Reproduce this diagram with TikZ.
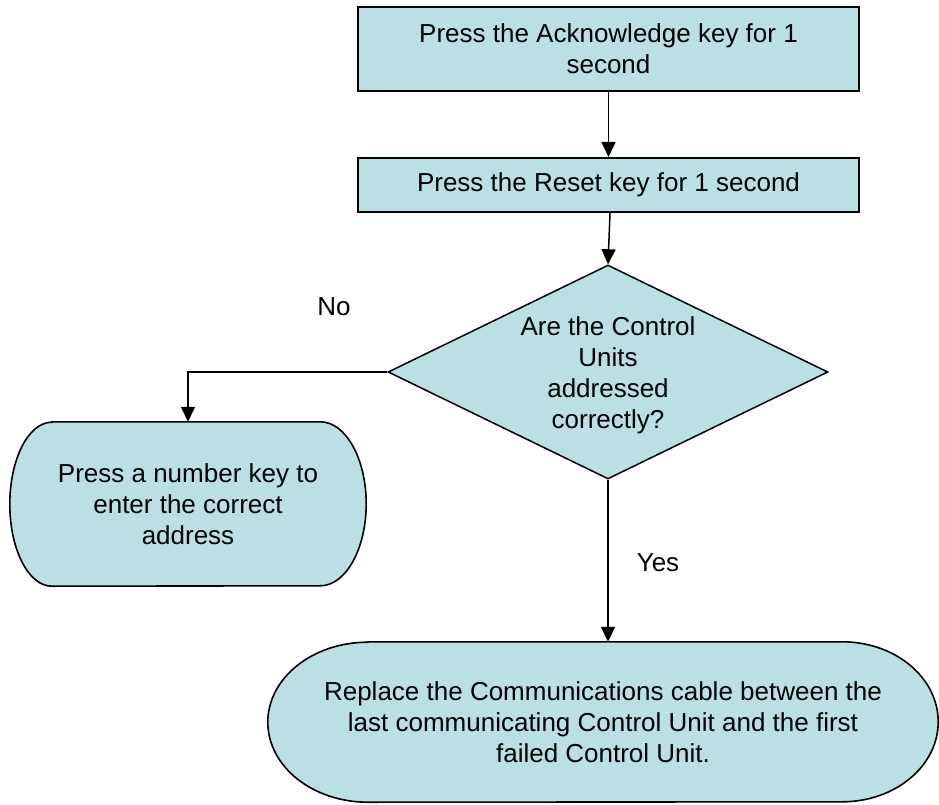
\documentclass[tikz,border=0pt]{standalone}
\usepackage{fontspec}
\setmainfont{Liberation Sans}
\usetikzlibrary{arrows.meta,shapes.geometric,backgrounds}
\definecolor{boxfill}{RGB}{187,224,227}
\begin{document}
\begin{tikzpicture}[x=1pt,y=-1pt,
  every node/.style={font=\fontsize{26}{31}\selectfont, align=center, inner sep=0pt},
  procbox/.style={draw=black, line width=2pt, fill=boxfill, rectangle, minimum width=501pt},
  decbox/.style={draw=black, line width=1.5pt, fill=boxfill, diamond, minimum width=440pt, minimum height=214pt, aspect=2.06},
  termtext/.style={rectangle},
  termshape/.style={draw=black, line width=1.6pt, fill=boxfill},
  conn/.style={draw=black, line width=1.5pt, -{Triangle[length=15pt,width=14pt]}},
  lbl/.style={font=\fontsize{26}{31}\selectfont}]
\useasboundingbox (0,0) rectangle (939,805);
\node[procbox, minimum height=84pt] (ack) at (608.5,49) {Press the Acknowledge key for 1\\second};
\node[procbox, minimum height=54pt] (reset) at (608.5,185) {Press the Reset key for 1 second};
\node[decbox] (dec) at (608,372) {};
\node (dectext) at (608,375) {Are the Control\\Units\\addressed\\correctly?};
\node[termtext, minimum width=356pt, minimum height=164pt] (num) at (188,504) {Press a number key to\\enter the correct\\address};
\node[termtext, minimum width=670pt, minimum height=160pt] (repl) at (603,722) {Replace the Communications cable between the\\last communicating Control Unit and the first\\failed Control Unit.};
\begin{scope}[on background layer]
  \path[termshape] ([xshift=42pt]num.north west) -- ([xshift=-46pt]num.north east)
    arc[start angle=90,end angle=-90,x radius=46pt,y radius=82pt]
    -- ([xshift=42pt]num.south west)
    arc[start angle=270,end angle=90,x radius=42pt,y radius=82pt] -- cycle;
  \path[termshape] ([xshift=100pt]repl.north west) -- ([xshift=-96pt]repl.north east)
    arc[start angle=90,end angle=-90,x radius=96pt,y radius=80pt]
    -- ([xshift=100pt]repl.south west)
    arc[start angle=270,end angle=90,x radius=100pt,y radius=80pt] -- cycle;
\end{scope}
\node[lbl] (no) at (334,307) {No};
\node[lbl] (yes) at (658,563) {Yes};
\draw[conn] (ack.south) -- (reset.north);
\draw[conn] ([xshift=1.5pt]reset.south) -- (dec.north);
\draw[conn] (dec.west) -| (num.north);
\draw[conn] (dec.south) -- (dec.south |- repl.north);
\end{tikzpicture}
\end{document}
